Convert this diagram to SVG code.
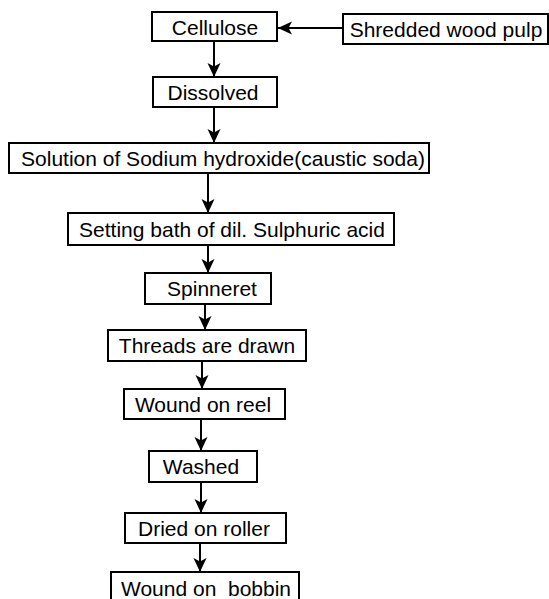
<svg xmlns="http://www.w3.org/2000/svg" width="549" height="599" viewBox="0 0 549 599">
<defs>
<marker id="ah" markerUnits="userSpaceOnUse" viewBox="0 0 12 14" refX="14" refY="6.5" markerWidth="12" markerHeight="14" orient="auto">
<path d="M0,0 L14,6.5 L0,13 L3.5,6.5 Z" fill="#000"/>
</marker>
<style>
rect{fill:#fff;stroke:#000;stroke-width:2}
text{font-family:"Liberation Sans",Arial,sans-serif;font-size:21px;fill:#000;text-anchor:middle;white-space:pre}
.c line{stroke:#000;stroke-width:2;marker-end:url(#ah)}
</style>
</defs>
<rect x="0" y="0" width="549" height="599" style="fill:#fff;stroke:none"/>
<g class="c" id="connectors">
<line x1="343" y1="28" x2="278" y2="28"/>
<line x1="214" y1="41" x2="214" y2="77"/>
<line x1="214" y1="107" x2="214" y2="143"/>
<line x1="208" y1="173" x2="208" y2="213"/>
<line x1="208" y1="245" x2="208" y2="273"/>
<line x1="205" y1="304" x2="205" y2="330"/>
<line x1="202" y1="361" x2="202" y2="389"/>
<line x1="201" y1="419" x2="201" y2="451"/>
<line x1="201" y1="482" x2="201" y2="513"/>
<line x1="200" y1="543" x2="200" y2="572"/>
</g>
<g id="cellulose"><rect x="152" y="12" width="125" height="29"/><text x="215" y="35">Cellulose</text></g>
<g id="shredded"><rect x="343" y="14" width="205" height="30"/><text x="446" y="37">Shredded wood pulp</text></g>
<g id="dissolved"><rect x="153" y="77" width="124" height="30"/><text x="213" y="100">Dissolved</text></g>
<g id="solution"><rect x="9" y="143" width="420" height="30"/><text x="223" y="166">Solution of Sodium hydroxide(caustic soda)</text></g>
<g id="setting"><rect x="68" y="213" width="326" height="32"/><text x="232" y="237">Setting bath of dil. Sulphuric acid</text></g>
<g id="spinneret"><rect x="145" y="273" width="126" height="31"/><text x="212" y="296">Spinneret</text></g>
<g id="threads"><rect x="108" y="330" width="198" height="31"/><text x="207" y="353">Threads are drawn</text></g>
<g id="reel"><rect x="124" y="389" width="161" height="30"/><text x="203" y="412">Wound on reel</text></g>
<g id="washed"><rect x="149" y="451" width="108" height="31"/><text x="201" y="474">Washed</text></g>
<g id="dried"><rect x="125" y="513" width="161" height="30"/><text x="204" y="536">Dried on roller</text></g>
<g id="bobbin"><rect x="111" y="572" width="188" height="31"/><text x="206" y="596">Wound on  bobbin</text></g>
</svg>
